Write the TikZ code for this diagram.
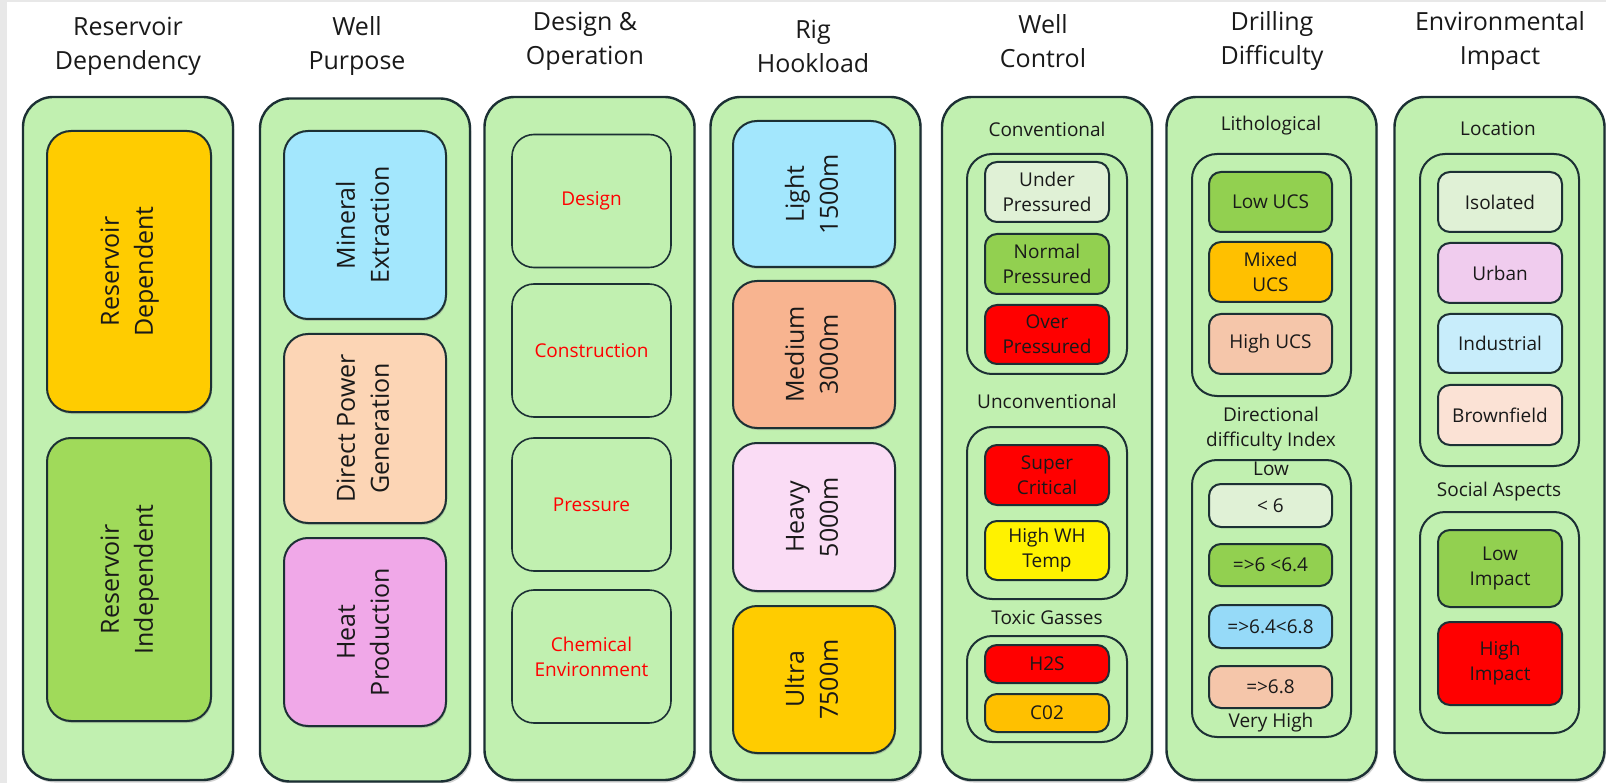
\documentclass[tikz,border=0pt]{standalone}
\usepackage{fontspec}
\setmainfont{Open Sans}
\usepackage{tikz}
\usetikzlibrary{positioning, shadows}

\definecolor{panel}{RGB}{193,240,176}
\definecolor{edge}{RGB}{28,48,52}
\definecolor{amber}{RGB}{255,204,0}
\definecolor{leaf}{RGB}{160,218,90}
\definecolor{grass}{RGB}{146,208,80}
\definecolor{sky}{RGB}{163,231,253}
\definecolor{peach}{RGB}{252,213,181}
\definecolor{orchid}{RGB}{240,168,232}
\definecolor{salmon}{RGB}{248,180,144}
\definecolor{blush}{RGB}{250,220,245}
\definecolor{mint}{RGB}{224,241,214}
\definecolor{gold}{RGB}{255,192,0}
\definecolor{apricot}{RGB}{245,198,170}
\definecolor{azure}{RGB}{150,218,248}
\definecolor{lilac}{RGB}{240,204,238}
\definecolor{ice}{RGB}{200,237,251}
\definecolor{shell}{RGB}{251,226,213}
\definecolor{frame}{RGB}{232,232,232}

\newcommand{\hdfont}{\fontsize{25}{34}\selectfont} % titles and big boxes
\newcommand{\lbfont}{\fontsize{19}{25}\selectfont} % small boxes and labels
\newcommand{\sidetext}[1]{\rotatebox{90}{\begin{tabular}{@{}c@{}}#1\end{tabular}}}

\tikzset{
every node/.style={text=black!90, inner sep=0pt, outer sep=0pt},
column/.style={draw=edge, line width=2.4pt, fill=panel, rounded corners=30pt, minimum width=210pt, minimum height=683pt,
  drop shadow={shadow xshift=1.5pt, shadow yshift=-2.5pt, opacity=0.35}}, % the tall green panels
bigbox/.style={draw=edge, line width=2pt, rounded corners=24pt, font=\hdfont,
  drop shadow={shadow xshift=1pt, shadow yshift=-2pt, opacity=0.35}}, % coloured boxes with turned text
phase/.style={draw=edge, line width=1.6pt, fill=panel, rounded corners=22pt, minimum width=159pt, minimum height=133pt,
  font=\lbfont, text=red, align=center},
group/.style={draw=edge, line width=2pt, fill=panel, rounded corners=25pt, minimum width=160pt},
item/.style={draw=edge, line width=2pt, rounded corners=12pt, minimum width=124pt, minimum height=60pt,
  font=\lbfont, align=center},
heading/.style={font=\hdfont, align=center},
sublabel/.style={font=\lbfont, align=center},
}

\begin{document}
\begin{tikzpicture}[x=1pt, y=-1pt]

\useasboundingbox (0,0) rectangle (1606,783);
\fill[frame] (0,0) rectangle (1606,2);
\fill[frame] (0,0) rectangle (7,783);

% titles
\node[heading] (tres) at (128,46) {Reservoir\\Dependency};
\node[heading] (tpurp) at (357,46) {Well\\Purpose};
\node[heading] (tdes) at (585,41.5) {Design \&\\Operation};
\node[heading] (trig) at (813,46.5) {Rig\\Hookload};
\node[heading] (tctrl) at (1043,41.5) {Well\\Control};
\node[heading] (tdrill) at (1272,41.5) {Drilling\\Difficulty};
\node[heading] (tenv) at (1500,41.5) {Environmental\\Impact};

% panels
\node[column] (cres) at (128,438.5) {};
\node[column] (cpurp) at (365,440) {};
\node[column] (cdes) at (589.5,438.5) {};
\node[column] (crig) at (815.5,438.5) {};
\node[column] (cctrl) at (1047,438.5) {};
\node[column] (cdrill) at (1271.5,438.5) {};
\node[column] (cenv) at (1499.5,438.5) {};

% reservoir dependency
\node[bigbox, fill=amber, minimum width=164pt, minimum height=281pt] (rdep) at (129,271.5) {\sidetext{Reservoir\\Dependent}};
\node[bigbox, fill=leaf, minimum width=164pt, minimum height=283pt] (rind) at (129,579.5) {\sidetext{Reservoir\\Independent}};

% well purpose
\node[bigbox, fill=sky, minimum width=162pt, minimum height=188pt] (mineral) at (365,225) {\sidetext{Mineral\\Extraction}};
\node[bigbox, fill=peach, minimum width=162pt, minimum height=189pt] (power) at (365,428.5) {\sidetext{Direct Power\\Generation}};
\node[bigbox, fill=orchid, minimum width=162pt, minimum height=188pt] (heat) at (365,632) {\sidetext{Heat\\Production}};

% design & operation
\node[phase] (design) at (591.5,201) {Design};
\node[phase] (constr) at (591.5,350.5) {Construction};
\node[phase] (press) at (591.5,504.5) {Pressure};
\node[phase] (chem) at (591.5,656.5) {Chemical\\Environment};

% rig hookload
\node[bigbox, fill=sky, minimum width=162pt, minimum height=146pt] (light) at (814,194) {\sidetext{Light\\1500m}};
\node[bigbox, fill=salmon, minimum width=162pt, minimum height=147pt] (medium) at (814,354.5) {\sidetext{Medium\\3000m}};
\node[bigbox, fill=blush, minimum width=162pt, minimum height=148pt] (heavy) at (814,517) {\sidetext{Heavy\\5000m}};
\node[bigbox, fill=amber, minimum width=162pt, minimum height=147pt] (ultra) at (814,679.5) {\sidetext{Ultra\\7500m}};

% well control
\node[sublabel] (lconv) at (1047,129) {Conventional};
\node[group, minimum height=220pt] (gconv) at (1047,264) {};
\node[item, fill=mint] (under) at (1047,192) {Under\\Pressured};
\node[item, fill=grass] (normal) at (1047,264) {Normal\\Pressured};
\node[item, fill=red, minimum height=59pt] (over) at (1047,334.5) {Over\\Pressured};
\node[sublabel] (lunconv) at (1047,401) {Unconventional};
\node[group, minimum height=172pt] (gunconv) at (1047,513) {};
\node[item, fill=red] (super) at (1047,475) {Super\\Critical};
\node[item, fill=yellow, minimum height=59pt] (whtemp) at (1047,550.5) {High WH\\Temp};
\node[sublabel] (ltoxic) at (1047,618) {Toxic Gasses};
\node[group, minimum height=106pt] (gtoxic) at (1047,689) {};
\node[item, fill=red, minimum height=38pt] (htwos) at (1047,664) {H2S};
\node[item, fill=gold, minimum height=38pt] (cotwo) at (1047,713) {C02};

% drilling difficulty
\node[sublabel] (llith) at (1271,126) {Lithological};
\node[group, minimum width=159pt, minimum height=242pt] (glith) at (1271.5,275) {};
\node[item, fill=grass, minimum width=123pt] (lowucs) at (1270.5,202) {Low UCS};
\node[item, fill=gold, minimum width=123pt] (mixucs) at (1270.5,272) {Mixed\\UCS};
\node[item, fill=apricot, minimum width=123pt] (highucs) at (1270.5,344) {High UCS};
\node[sublabel] (ldir) at (1271,429.5) {Directional\\difficulty Index};
\node[group, minimum width=159pt, minimum height=277pt] (gdir) at (1271.5,598.5) {};
\node[sublabel] (llow) at (1271,469) {Low};
\node[item, fill=mint, minimum width=123pt, minimum height=43pt] (ddia) at (1270.5,505.5) {< 6};
\node[item, fill=grass, minimum width=123pt, minimum height=42pt] (ddib) at (1270.5,565) {=>6 <6.4};
\node[item, fill=azure, minimum width=123pt, minimum height=43pt] (ddic) at (1270.5,626.5) {=>6.4<6.8};
\node[item, fill=apricot, minimum width=123pt, minimum height=42pt] (ddid) at (1270.5,687) {=>6.8};
\node[sublabel] (lvhigh) at (1271,723) {Very High};

% environmental impact
\node[sublabel] (lloc) at (1498,129) {Location};
\node[group, minimum width=159pt, minimum height=312pt] (gloc) at (1499.5,310) {};
\node[item, fill=mint] (isol) at (1500,202) {Isolated};
\node[item, fill=lilac] (urban) at (1500,273) {Urban};
\node[item, fill=ice, minimum height=59pt] (indus) at (1500,343.5) {Industrial};
\node[item, fill=shell] (brown) at (1500,415) {Brownfield};
\node[sublabel] (lsoc) at (1499,492) {Social Aspects};
\node[group, minimum width=159pt, minimum height=221pt] (gsoc) at (1499.5,622.5) {};
\node[item, fill=grass, minimum height=77pt] (lowimp) at (1500,568.5) {Low\\Impact};
\node[item, fill=red, minimum height=83pt] (highimp) at (1500,663.5) {High\\Impact};

\end{tikzpicture}
\end{document}
